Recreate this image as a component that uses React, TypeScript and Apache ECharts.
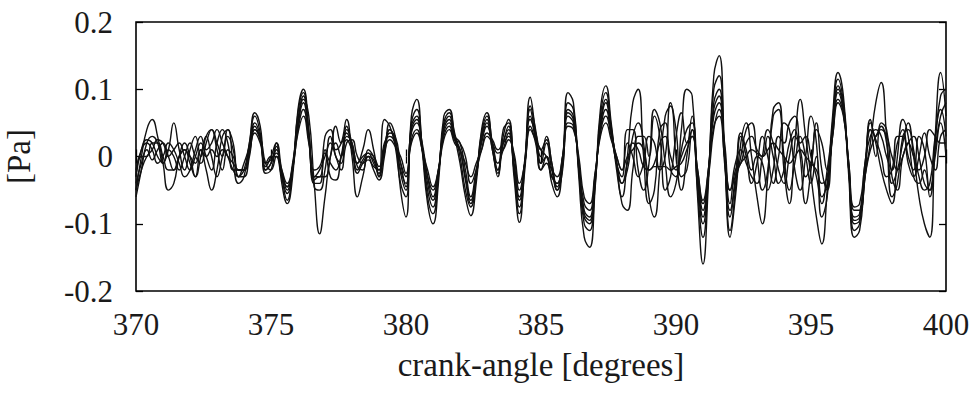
import React, { useEffect, useRef } from "react";
import * as echarts from "echarts";

// Sampling grid: crank angle from 370 to 400 degrees, one sample every 0.2 degree
const ANGLE_START = 370;
const ANGLE_STEP = 0.2;

const X_TICKS = [370, 375, 380, 385, 390, 395, 400];
const Y_TICKS = [-0.2, -0.1, 0, 0.1, 0.2];

// Pressure traces [Pa] (one row = one degree: .0 .2 .4 .6 .8)
const trace1 = [
  -0.05, 0.0, 0.04, 0.055, 0.03,
  -0.01, -0.05, -0.04, 0.0, 0.02,
  0.0, -0.03, 0.01, -0.02, -0.05,
  -0.02, 0.03, 0.04, -0.01, -0.04,
  -0.03, 0.02, 0.065, 0.045, -0.02,
  -0.01, 0.02, -0.04, -0.07, -0.03,
  0.07, 0.1, 0.04, -0.045, -0.05,
  -0.02, 0.03, 0.01, 0.02, 0.055,
  0.0, -0.06, -0.03, 0.0, -0.02,
  -0.035, 0.0, 0.05, 0.03, -0.05,
  -0.09, 0.06, 0.085, 0.01, -0.07,
  -0.1, -0.04, 0.06, 0.07, 0.03,
  -0.01, -0.06, -0.088, -0.04, 0.04,
  0.065, 0.015, -0.03, 0.04, 0.05,
  -0.03, -0.098, -0.01, 0.088, 0.035,
  -0.02, 0.0, -0.04, -0.06, -0.01,
  0.095, 0.08, -0.03, -0.12, -0.135,
  -0.05, 0.07, 0.105, 0.05, -0.02,
  -0.06, 0.0, 0.08, 0.1, 0.0,
  -0.07, -0.05, 0.04, 0.05, -0.02,
  -0.03, 0.04, 0.1, 0.09, -0.06,
  -0.16, -0.04, 0.12, 0.15, 0.01,
  -0.12, -0.06, 0.02, 0.05, 0.0,
  -0.06, -0.1, -0.03, 0.06, 0.07,
  -0.02, -0.07, 0.02, 0.085, 0.03,
  -0.03, -0.09, -0.13, -0.05, 0.06,
  0.125, 0.09, -0.03, -0.12, -0.11,
  -0.03, 0.02, 0.08, 0.11, 0.03,
  -0.06, -0.04, 0.03, 0.04, 0.0,
  -0.06, -0.1, -0.12, 0.03, 0.125,
  0.06,
];

const trace2 = [
  -0.06, -0.02, 0.02, 0.03, 0.02,
  -0.01, 0.01, 0.05, 0.01, -0.02,
  0.01, 0.03, 0.0, 0.03, 0.04,
  0.02, 0.0, 0.04, 0.02, -0.03,
  -0.02, 0.02, 0.06, 0.035, -0.025,
  -0.02, 0.015, -0.03, -0.065, -0.02,
  0.065, 0.095, 0.035, -0.04, -0.04,
  0.03, 0.04, 0.0, -0.01, 0.045,
  0.02, -0.01, 0.01, 0.04, 0.01,
  -0.03, 0.055, 0.045, 0.015, -0.04,
  -0.06, 0.05, 0.07, 0.015, -0.06,
  -0.085, -0.03, 0.05, 0.065, 0.035,
  0.0, -0.05, -0.075, -0.03, 0.035,
  0.06, 0.02, -0.02, 0.03, 0.055,
  -0.02, -0.085, -0.02, 0.075, 0.04,
  -0.01, 0.02, -0.02, -0.05, -0.02,
  0.08, 0.07, -0.02, -0.1, -0.11,
  -0.045, 0.06, 0.095, 0.045, -0.01,
  -0.04, -0.02, 0.03, 0.05, 0.02,
  -0.06, -0.09, -0.02, 0.06, 0.075,
  0.0, -0.05, 0.0, 0.06, -0.05,
  -0.12, -0.03, 0.1, 0.12, 0.0,
  -0.11, -0.05, 0.03, 0.0, -0.04,
  -0.01, 0.03, 0.0, -0.04, 0.0,
  0.05, 0.04, -0.02, -0.05, 0.0,
  0.06, 0.02, -0.09, -0.06, 0.05,
  0.115, 0.08, -0.02, -0.11, -0.1,
  -0.02, 0.05, 0.02, -0.02, -0.05,
  -0.07, 0.0, 0.055, 0.03, -0.03,
  -0.04, -0.02, -0.06, 0.02, 0.09,
  0.1,
];

const trace3 = [
  -0.03, 0.01, 0.025, 0.02, 0.0,
  -0.01, 0.01, 0.0, -0.02, 0.0,
  0.02, 0.0, -0.01, 0.02, 0.04,
  0.01, -0.02, 0.01, 0.0, -0.02,
  -0.02, 0.01, 0.05, 0.03, -0.02,
  -0.01, 0.01, -0.03, -0.055, -0.02,
  0.055, 0.09, 0.03, -0.035, -0.03,
  -0.03, 0.0, 0.045, 0.02, 0.04,
  0.01, -0.025, -0.01, 0.0, -0.005,
  -0.03, 0.01, 0.04, 0.025, -0.025,
  -0.05, 0.045, 0.06, 0.01, -0.05,
  -0.075, -0.025, 0.045, 0.06, 0.03,
  0.01, -0.035, -0.07, -0.03, 0.03,
  0.055, 0.01, -0.025, 0.02, 0.045,
  -0.02, -0.075, -0.01, 0.07, 0.03,
  0.0, 0.03, -0.01, -0.045, -0.01,
  0.07, 0.06, -0.02, -0.09, -0.1,
  -0.04, 0.05, 0.085, 0.04, -0.01,
  -0.07, -0.08, -0.02, 0.03, 0.03,
  0.0, 0.06, 0.03, -0.05, -0.03,
  0.03, 0.065, 0.02, 0.04, -0.04,
  -0.1, -0.03, 0.08, 0.1, 0.0,
  -0.09, -0.04, 0.0, 0.04, 0.05,
  0.0, -0.05, -0.02, 0.07, 0.08,
  0.0, -0.05, -0.01, 0.03, 0.0,
  -0.04, 0.0, -0.06, -0.04, 0.04,
  0.105, 0.075, -0.02, -0.1, -0.095,
  -0.03, 0.055, 0.03, 0.045, 0.02,
  -0.04, -0.02, 0.02, 0.05, 0.01,
  -0.03, -0.05, -0.04, 0.03, 0.07,
  0.03,
];

const trace4 = [
  -0.04, -0.01, 0.01, -0.005, 0.01,
  0.02, 0.0, -0.02, 0.0, 0.01,
  -0.01, -0.03, 0.0, 0.03, 0.0,
  -0.03, 0.0, 0.03, 0.01, -0.03,
  -0.01, 0.015, 0.045, 0.025, -0.015,
  0.0, 0.02, -0.02, -0.05, -0.015,
  0.05, 0.08, 0.025, -0.03, -0.03,
  0.01, -0.03, -0.035, 0.0, 0.035,
  0.015, -0.02, -0.005, 0.005, -0.01,
  -0.025, 0.015, 0.04, 0.02, -0.02,
  -0.04, 0.04, 0.055, 0.015, -0.04,
  -0.065, -0.025, 0.04, 0.055, 0.025,
  0.01, -0.03, -0.065, -0.03, 0.025,
  0.05, 0.01, -0.02, 0.02, 0.04,
  -0.015, -0.065, -0.01, 0.06, 0.025,
  -0.01, 0.0, -0.03, -0.04, 0.0,
  0.065, 0.055, -0.015, -0.085, -0.095,
  -0.035, 0.045, 0.08, 0.035, -0.01,
  -0.03, 0.04, 0.04, -0.02, -0.05,
  -0.01, 0.07, 0.05, -0.01, -0.06,
  -0.04, 0.01, 0.04, 0.05, -0.03,
  -0.09, -0.02, 0.07, 0.09, -0.01,
  -0.08, -0.03, 0.035, 0.01, -0.02,
  0.0, -0.01, -0.05, -0.02, 0.03,
  0.02, 0.05, 0.06, 0.0, -0.07,
  -0.02, 0.05, -0.02, -0.05, 0.035,
  0.1, 0.07, -0.015, -0.095, -0.09,
  -0.02, 0.04, 0.0, 0.05, 0.04,
  -0.03, -0.05, 0.0, 0.02, 0.03,
  0.0, -0.04, -0.05, 0.01, 0.06,
  0.08,
];

const trace5 = [
  -0.02, 0.01, 0.02, 0.01, -0.01,
  0.0, 0.02, 0.01, -0.01, -0.03,
  -0.02, 0.01, 0.03, 0.01, 0.02,
  0.04, 0.02, 0.0, -0.02, -0.03,
  -0.03, 0.0, 0.04, 0.03, -0.01,
  -0.02, 0.0, -0.03, -0.045, -0.01,
  0.045, 0.085, 0.06, -0.04, -0.115,
  -0.06, 0.0, 0.02, 0.0, 0.03,
  0.02, -0.015, -0.02, 0.01, 0.0,
  -0.02, 0.005, 0.035, 0.03, -0.01,
  -0.045, 0.035, 0.05, 0.02, -0.03,
  -0.06, -0.02, 0.035, 0.05, 0.03,
  0.02, -0.02, -0.06, -0.02, 0.02,
  0.045, 0.02, -0.01, 0.01, 0.035,
  -0.01, -0.06, -0.005, 0.055, 0.035,
  0.01, 0.025, -0.01, -0.05, -0.015,
  0.06, 0.05, -0.01, -0.08, -0.09,
  -0.03, 0.04, 0.07, 0.035, 0.0,
  -0.02, 0.02, 0.0, -0.03, -0.01,
  0.03, 0.02, -0.02, 0.0, 0.08,
  0.04, -0.03, -0.02, 0.04, -0.03,
  -0.08, -0.02, 0.06, 0.08, 0.01,
  -0.07, -0.02, -0.01, 0.02, 0.03,
  0.01, 0.0, 0.03, 0.0, -0.04,
  -0.02, 0.02, 0.04, 0.02, 0.03,
  0.0, -0.03, -0.07, -0.02, 0.04,
  0.095, 0.065, -0.02, -0.09, -0.085,
  -0.01, 0.03, 0.04, 0.03, 0.0,
  -0.02, 0.02, 0.04, 0.0, -0.02,
  0.03, 0.01, -0.05, 0.0, 0.05,
  0.0,
];

const trace6 = [
  -0.05, -0.02, 0.0, 0.01, 0.025,
  0.02, 0.0, 0.01, 0.02, 0.0,
  -0.02, 0.0, 0.02, 0.0, -0.02,
  0.02, 0.04, 0.02, -0.02, -0.02,
  -0.02, 0.005, 0.04, 0.025, -0.01,
  0.0, 0.0, -0.025, -0.045, -0.02,
  0.04, 0.07, 0.025, -0.03, -0.02,
  0.0, 0.02, 0.0, -0.02, 0.02,
  0.025, 0.0, -0.01, -0.005, -0.015,
  -0.02, 0.02, 0.03, 0.02, -0.01,
  -0.03, 0.025, 0.04, 0.01, -0.03,
  -0.05, -0.02, 0.03, 0.045, 0.025,
  0.02, 0.0, -0.04, -0.02, 0.01,
  0.035, 0.025, 0.01, 0.02, 0.03,
  0.0, -0.05, -0.01, 0.045, 0.02,
  -0.02, -0.01, -0.03, -0.04, 0.0,
  0.05, 0.045, -0.01, -0.07, -0.08,
  -0.03, 0.035, 0.06, 0.03, -0.01,
  -0.04, -0.01, 0.02, 0.01, -0.015,
  -0.02, -0.015, -0.015, -0.015, -0.02,
  -0.015, -0.01, 0.01, 0.03, -0.02,
  -0.07, -0.03, 0.04, 0.07, 0.02,
  -0.05, -0.03, -0.01, 0.0, 0.01,
  0.005, 0.0, 0.01, 0.02, 0.01,
  0.0, -0.01, 0.0, 0.01, 0.0,
  -0.01, -0.02, -0.04, -0.03, 0.03,
  0.085, 0.065, -0.01, -0.08, -0.08,
  -0.03, 0.01, 0.03, 0.04, 0.03,
  0.0, -0.02, 0.0, 0.02, 0.0,
  -0.02, 0.0, 0.04, 0.03, 0.02,
  0.02,
];

const trace7 = [
  -0.03, 0.0, 0.0, 0.02, 0.02,
  0.0, -0.02, -0.02, 0.0, 0.01,
  0.0, -0.01, 0.01, 0.0, 0.01,
  0.0, 0.01, 0.0, -0.01, -0.02,
  -0.02, 0.01, 0.035, 0.02, -0.01,
  -0.005, 0.005, -0.02, -0.04, -0.015,
  0.035, 0.06, 0.02, -0.02, -0.015,
  0.005, -0.01, -0.02, 0.0, 0.025,
  0.01, -0.01, 0.0, 0.005, 0.0,
  -0.015, 0.01, 0.025, 0.015, 0.0,
  -0.025, 0.02, 0.035, 0.01, -0.02,
  -0.045, -0.02, 0.025, 0.04, 0.02,
  0.01, -0.01, -0.03, -0.01, 0.01,
  0.03, 0.02, 0.005, 0.01, 0.025,
  0.005, -0.04, -0.01, 0.04, 0.025,
  0.01, 0.0, -0.02, -0.03, 0.0,
  0.045, 0.04, 0.0, -0.06, -0.07,
  -0.025, 0.03, 0.05, 0.025, 0.0,
  -0.02, 0.0, 0.01, 0.02, 0.01,
  -0.02, -0.01, 0.02, 0.03, 0.0,
  -0.02, 0.0, 0.02, 0.03, -0.02,
  -0.065, -0.02, 0.045, 0.06, 0.0,
  -0.05, -0.01, 0.01, -0.01, -0.03,
  -0.04, 0.0, 0.04, 0.02, -0.02,
  -0.04, 0.0, 0.03, 0.01, -0.03,
  -0.01, 0.04, 0.02, -0.02, 0.03,
  0.08, 0.06, -0.01, -0.075, -0.07,
  -0.01, 0.04, 0.025, 0.0, -0.03,
  -0.02, 0.03, 0.03, -0.01, -0.03,
  0.0, 0.035, 0.0, -0.02, 0.03,
  0.04,
];

const TRACES = [trace1, trace2, trace3, trace4, trace5, trace6, trace7];

const FONT = "Liberation Serif";

function toPoints(values: number[]): [number, number][] {
  return values.map((v, i) => [Number((ANGLE_START + i * ANGLE_STEP).toFixed(1)), v]);
}

function fmtY(v: number): string {
  const r = Math.round(v * 10) / 10;
  if (r === 0) return "0";
  return String(r);
}

export default function App() {
  const ref = useRef<HTMLDivElement>(null);

  useEffect(() => {
    if (!ref.current) return;
    const chart = echarts.init(ref.current, null, { renderer: "svg" });
    const xMin = X_TICKS[0];
    const xMax = X_TICKS[X_TICKS.length - 1];
    const yMin = Y_TICKS[0];
    const yMax = Y_TICKS[Y_TICKS.length - 1];
    const tickStyle = { show: true, inside: true, length: 7, lineStyle: { color: "#000", width: 1.3 } };
    const tickText = { fontFamily: FONT, fontSize: 31, color: "#1a1a1a" };
    const nameText = { fontFamily: FONT, fontSize: 33, color: "#1a1a1a" };

    chart.setOption({
      animation: false,
      backgroundColor: "#fff",
      textStyle: { fontFamily: FONT },
      grid: {
        left: 136,
        right: 26,
        top: 22,
        bottom: 103,
        containLabel: false,
        outerBoundsMode: "none",
        show: true,
        borderColor: "#000",
        borderWidth: 1.6,
        backgroundColor: "transparent",
      },
      xAxis: [
        {
          type: "value",
          min: xMin,
          max: xMax,
          interval: 5,
          position: "bottom",
          axisLine: { show: false },
          axisTick: tickStyle,
          splitLine: { show: false },
          axisLabel: { margin: 18, ...tickText },
          name: "crank-angle [degrees]",
          nameLocation: "middle",
          nameGap: 57,
          nameTextStyle: nameText,
        },
        {
          type: "value",
          min: xMin,
          max: xMax,
          interval: 5,
          position: "top",
          axisLine: { show: false },
          axisTick: tickStyle,
          splitLine: { show: false },
          axisLabel: { show: false },
        },
      ],
      yAxis: [
        {
          type: "value",
          min: yMin,
          max: yMax,
          interval: 0.1,
          position: "left",
          axisLine: { show: false },
          axisTick: tickStyle,
          splitLine: { show: false },
          axisLabel: {
            margin: 23,
            ...tickText,
            formatter: (v: number) => fmtY(v),
          },
          name: "[Pa]",
          nameLocation: "middle",
          nameRotate: 90,
          nameGap: 101,
          nameTextStyle: nameText,
        },
        {
          type: "value",
          min: yMin,
          max: yMax,
          interval: 0.1,
          position: "right",
          axisLine: { show: false },
          axisTick: tickStyle,
          splitLine: { show: false },
          axisLabel: { show: false },
        },
      ],
      series: TRACES.map((t, k) => ({
        name: "trace" + (k + 1),
        type: "line",
        xAxisIndex: 0,
        yAxisIndex: 0,
        data: toPoints(t),
        smooth: 0.5,
        showSymbol: false,
        silent: true,
        clip: true,
        lineStyle: { color: "#111", width: 1.4 },
      })),
    });

    return () => chart.dispose();
  }, []);

  return (
    <div
      ref={ref}
      style={{ position: "fixed", left: 0, top: 0, width: 972, height: 394, background: "#fff" }}
    />
  );
}
